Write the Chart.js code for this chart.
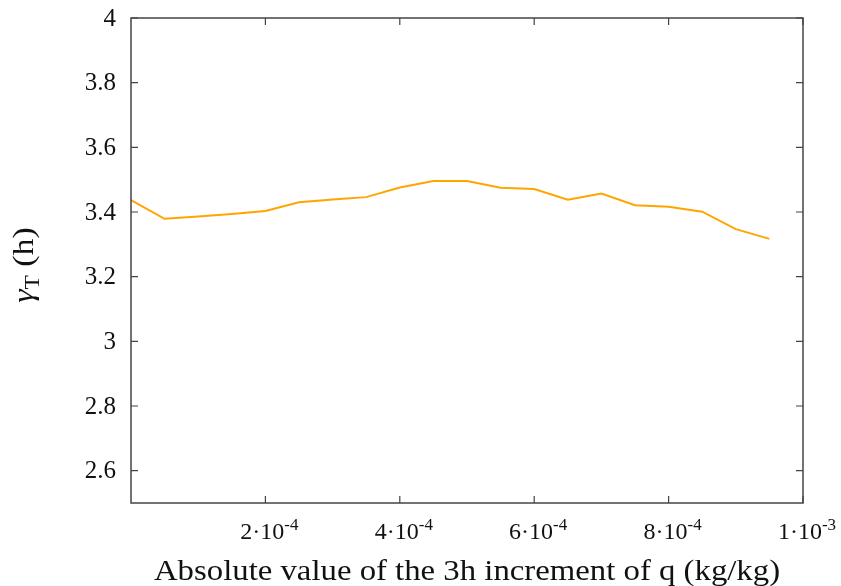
<!DOCTYPE html>
<html>
<head>
<meta charset="utf-8">
<script src="https://cdn.jsdelivr.net/npm/chart.js@4.4.0/dist/chart.umd.min.js"></script>
<style>
    html, body { margin: 0; padding: 0; background: #fff; }
    #wrap { width: 841px; height: 586px; position: relative; }
</style>
</head>
<body>
<div id="wrap"><canvas id="chart" width="841" height="586"></canvas></div>
<script>
// data
const xValues = [0, 0.00005, 0.0001, 0.00015, 0.0002, 0.00025, 0.0003, 0.00035, 0.0004, 0.00045,
    0.0005, 0.00055, 0.0006, 0.00065, 0.0007, 0.00075, 0.0008, 0.00085, 0.0009, 0.00095];
const gammaValues = [3.437, 3.379, 3.386, 3.394, 3.403, 3.430, 3.439, 3.446, 3.476, 3.496,
    3.496, 3.475, 3.471, 3.438, 3.457, 3.421, 3.416, 3.401, 3.347, 3.317];
const yTicks = [2.6, 2.8, 3, 3.2, 3.4, 3.6, 3.8, 4];
const xTicks = [0.0002, 0.0004, 0.0006, 0.0008, 0.001];
const xTickLabels = [['2', '-4'], ['4', '-4'], ['6', '-4'], ['8', '-4'], ['1', '-3']];

const serif = '"Liberation Serif", "DejaVu Serif", serif';

// frame, inward ticks, superscript labels and titles
const framePlugin = {
    id: 'frame',
    afterDraw(chart) {
        const ctx = chart.ctx;
        const a = chart.chartArea;
        const xs = chart.scales.x;
        const ys = chart.scales.y;
        ctx.save();
        ctx.strokeStyle = '#444';
        ctx.lineWidth = 1.5;
        ctx.strokeRect(a.left, a.top, a.right - a.left, a.bottom - a.top);

        ctx.lineWidth = 1.2;
        ctx.beginPath();
        yTicks.forEach(v => {
            const y = ys.getPixelForValue(v);
            ctx.moveTo(a.left, y); ctx.lineTo(a.left + 7, y);
            ctx.moveTo(a.right, y); ctx.lineTo(a.right - 7, y);
        });
        xTicks.forEach(v => {
            const x = xs.getPixelForValue(v);
            ctx.moveTo(x, a.bottom); ctx.lineTo(x, a.bottom - 7);
            ctx.moveTo(x, a.top); ctx.lineTo(x, a.top + 7);
        });
        ctx.stroke();

        // y tick labels
        ctx.fillStyle = '#111';
        ctx.font = '25px ' + serif;
        ctx.textAlign = 'right';
        ctx.textBaseline = 'middle';
        yTicks.forEach(v => {
            ctx.fillText(String(v), a.left - 15, ys.getPixelForValue(v) + 1);
        });

        // x tick labels, like 2·10^-4
        ctx.textBaseline = 'alphabetic';
        xTicks.forEach((v, i) => {
            const [mant, exp] = xTickLabels[i];
            const x = xs.getPixelForValue(v);
            ctx.font = '24px ' + serif;
            const main = mant + '\u00b710';
            const wMain = ctx.measureText(main).width;
            ctx.font = '17px ' + serif;
            const wExp = ctx.measureText(exp).width;
            const start = x - (wMain + wExp) / 2 + 4;
            ctx.textAlign = 'left';
            ctx.font = '24px ' + serif;
            ctx.fillText(main, start, 539);
            ctx.font = '17px ' + serif;
            ctx.fillText(exp, start + wMain, 530);
        });

        // x title, a bit wider than the plain font
        ctx.save();
        ctx.font = '29px ' + serif;
        ctx.textAlign = 'center';
        ctx.translate(467, 580);
        ctx.scale(1.13, 1);
        ctx.fillText('Absolute value of the 3h increment of q (kg/kg)', 0, 0);
        ctx.restore();

        // y title, gamma with subscript T
        ctx.translate(33, 265);
        ctx.rotate(-Math.PI / 2);
        ctx.scale(1.17, 1);
        ctx.textAlign = 'left';
        ctx.font = 'italic 29px ' + serif;
        const g = '\u03b3';
        const wg = ctx.measureText(g).width;
        ctx.font = '20px ' + serif;
        const wt = ctx.measureText('T').width;
        ctx.font = '29px ' + serif;
        const wh = ctx.measureText(' (h)').width;
        let x0 = -(wg + wt + wh) / 2;
        ctx.font = 'italic 29px ' + serif;
        ctx.fillText(g, x0, 0);
        ctx.font = '20px ' + serif;
        ctx.fillText('T', x0 + wg, 6);
        ctx.font = '29px ' + serif;
        ctx.fillText(' (h)', x0 + wg + wt, 0);
        ctx.restore();
    }
};

new Chart(document.getElementById('chart'), {
    type: 'line',
    data: {
        datasets: [{
            data: xValues.map((x, i) => ({ x: x, y: gammaValues[i] })),
            borderColor: '#ffa500',
            borderWidth: 2,
            pointRadius: 0,
            tension: 0,
            fill: false
        }]
    },
    options: {
        responsive: false,
        animation: false,
        layout: { padding: { top: 18, right: 38, left: 0, bottom: 0 } },
        scales: {
            x: {
                type: 'linear',
                min: 0,
                max: 0.001,
                grid: { display: false },
                border: { display: false },
                ticks: { display: false },
                afterFit(scale) { scale.height = 83; }
            },
            y: {
                min: 2.5,
                max: 4,
                grid: { display: false },
                border: { display: false },
                ticks: { display: false },
                afterFit(scale) { scale.width = 131; }
            }
        },
        plugins: {
            legend: { display: false },
            tooltip: { enabled: false }
        }
    },
    plugins: [framePlugin]
});
</script>
</body>
</html>
